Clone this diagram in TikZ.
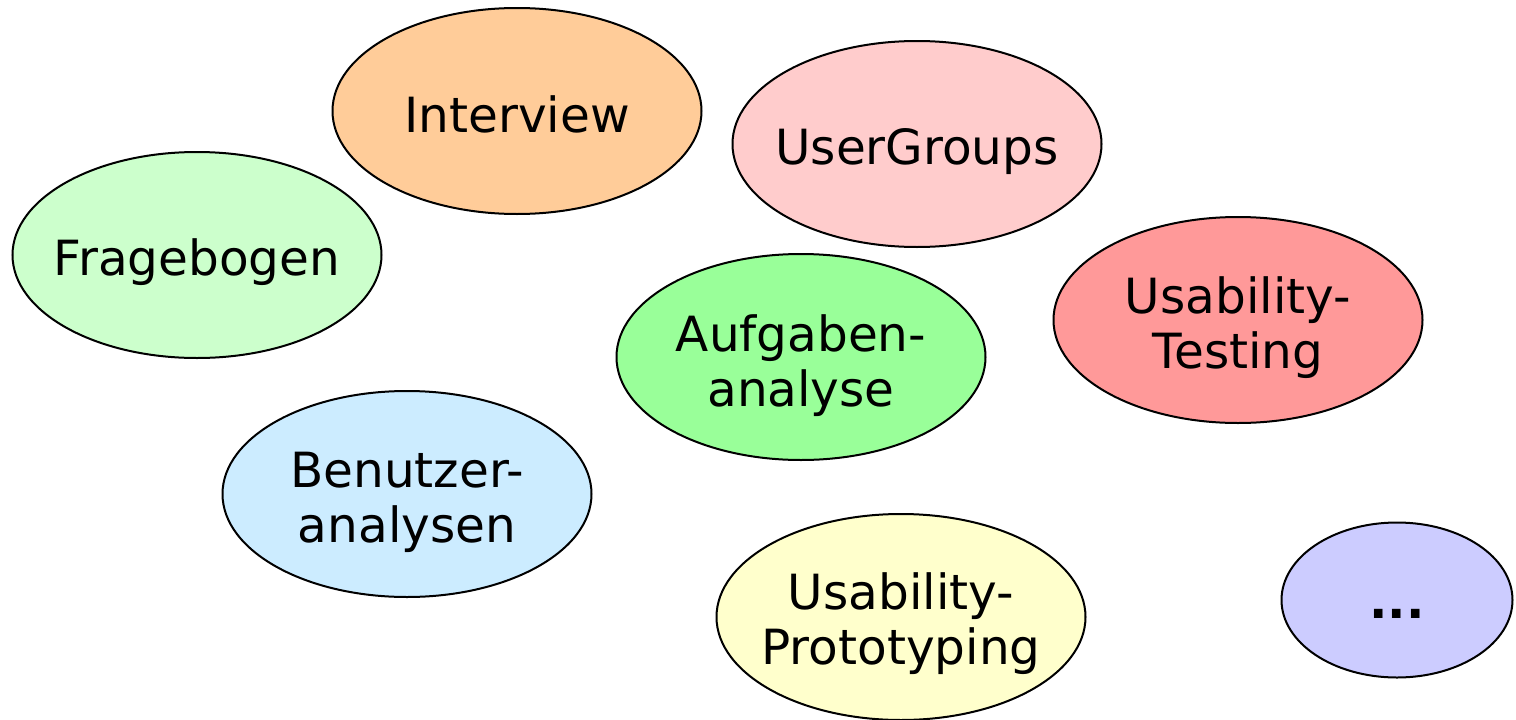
\documentclass[tikz,border=0pt]{standalone}
\usepackage{fontspec}
\setmainfont{DejaVu Sans}
\usetikzlibrary{shapes.geometric}
\definecolor{cInterview}{HTML}{FFCC99}
\definecolor{cUser}{HTML}{FFCCCC}
\definecolor{cFrage}{HTML}{CCFFCC}
\definecolor{cAufg}{HTML}{99FF99}
\definecolor{cTest}{HTML}{FF9999}
\definecolor{cBen}{HTML}{CCECFF}
\definecolor{cProto}{HTML}{FFFFCC}
\definecolor{cMore}{HTML}{CCCCFF}
\tikzset{
  blob/.style={ellipse, draw=black, line width=2pt, inner sep=0pt,
    minimum width=369pt, minimum height=206pt},
  label/.style={anchor=base, inner sep=0pt, align=center,
    font=\fontsize{48.5}{55}\selectfont}
}
\begin{document}
\begin{tikzpicture}[x=1pt,y=-1pt]
\useasboundingbox (0,0) rectangle (1516,720);
\node[blob, fill=cInterview] (interview) at (517,111) {};
\node[label] (tinterview) at (517,132) {Interview};
\node[blob, fill=cUser] (usergroups) at (917,144) {};
\node[label] (tusergroups) at (917,164) {UserGroups};
\node[blob, fill=cFrage] (frage) at (197,255) {};
\node[label] (tfrage) at (197,275) {Fragebogen};
\node[blob, fill=cAufg] (aufg) at (801,357) {};
\node[label] (taufg) at (801,406) {Aufgaben-\\analyse};
\node[blob, fill=cTest] (test) at (1238,320) {};
\node[label] (ttest) at (1238,368) {Usability-\\Testing};
\node[blob, fill=cBen] (ben) at (407,494) {};
\node[label] (tben) at (407,542) {Benutzer-\\analysen};
\node[blob, fill=cProto] (proto) at (901,617) {};
\node[label] (tproto) at (901,664) {Usability-\\Prototyping};
\node[blob, fill=cMore, minimum width=231pt, minimum height=155pt] (more) at (1397,600) {};
\node[label, font=\fontsize{48.5}{55}\selectfont\bfseries] (tmore) at (1397,618) {...};
\end{tikzpicture}
\end{document}
